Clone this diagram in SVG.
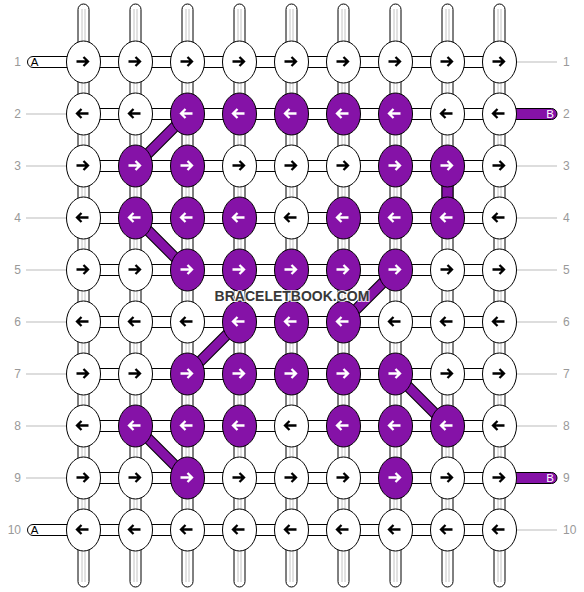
<svg xmlns="http://www.w3.org/2000/svg" xmlns:xlink="http://www.w3.org/1999/xlink" width="584" height="592" viewBox="0 0 584 592">
<style>
.str{fill:#fff;stroke:#000;stroke-width:1}
.gl{stroke:#c4c4c4;stroke-width:1;fill:none}
.pstr{fill:#8512a7;stroke:#000;stroke-width:1}
.dgo{stroke:#000;stroke-width:11;stroke-linecap:butt}
.dgi{stroke:#8512a7;stroke-width:9;stroke-linecap:butt}
.w{fill:#fff;stroke:#000;stroke-width:1}
.p{fill:#8512a7;stroke:#000;stroke-width:1}
.bk{stroke:#000;stroke-width:2.3;fill:none}
.wh{stroke:#fff;stroke-width:2.3;fill:none}
.lbl{font-family:"Liberation Sans",Arial,sans-serif;font-size:12px;fill:#999}
.tl{font-family:"Liberation Sans",Arial,sans-serif;font-size:11.5px;text-anchor:middle}
.rl{stroke:#bbb;stroke-width:1}
.wm{font-family:"Liberation Sans",Arial,sans-serif;font-size:14px;font-weight:bold;fill:#383838;stroke:#fff;stroke-width:2;stroke-opacity:0.8;paint-order:stroke;text-anchor:middle}
</style>
<defs>
<path id="ar" d="M-6 0H5M1-4.5L5.5 0 1 4.5"/>
<path id="al" d="M6 0H-5M-1-4.5L-5.5 0-1 4.5"/>
</defs>
<rect width="584" height="592" fill="#fff"/>
<g id="labels">
<line class="rl" x1="26" y1="114" x2="66" y2="114"/>
<line class="rl" x1="26" y1="166" x2="66" y2="166"/>
<line class="rl" x1="26" y1="218" x2="66" y2="218"/>
<line class="rl" x1="26" y1="270" x2="66" y2="270"/>
<line class="rl" x1="26" y1="322" x2="66" y2="322"/>
<line class="rl" x1="26" y1="374" x2="66" y2="374"/>
<line class="rl" x1="26" y1="426" x2="66" y2="426"/>
<line class="rl" x1="26" y1="478" x2="66" y2="478"/>
<line class="rl" x1="517" y1="62" x2="557" y2="62"/>
<line class="rl" x1="517" y1="166" x2="557" y2="166"/>
<line class="rl" x1="517" y1="218" x2="557" y2="218"/>
<line class="rl" x1="517" y1="270" x2="557" y2="270"/>
<line class="rl" x1="517" y1="322" x2="557" y2="322"/>
<line class="rl" x1="517" y1="374" x2="557" y2="374"/>
<line class="rl" x1="517" y1="426" x2="557" y2="426"/>
<line class="rl" x1="517" y1="530" x2="557" y2="530"/>
<text class="lbl" x="21" y="66" text-anchor="end">1</text>
<text class="lbl" x="21" y="118" text-anchor="end">2</text>
<text class="lbl" x="21" y="170" text-anchor="end">3</text>
<text class="lbl" x="21" y="222" text-anchor="end">4</text>
<text class="lbl" x="21" y="274" text-anchor="end">5</text>
<text class="lbl" x="21" y="326" text-anchor="end">6</text>
<text class="lbl" x="21" y="378" text-anchor="end">7</text>
<text class="lbl" x="21" y="430" text-anchor="end">8</text>
<text class="lbl" x="21" y="482" text-anchor="end">9</text>
<text class="lbl" x="21" y="534" text-anchor="end">10</text>
<text class="lbl" x="563" y="66">1</text>
<text class="lbl" x="563" y="118">2</text>
<text class="lbl" x="563" y="170">3</text>
<text class="lbl" x="563" y="222">4</text>
<text class="lbl" x="563" y="274">5</text>
<text class="lbl" x="563" y="326">6</text>
<text class="lbl" x="563" y="378">7</text>
<text class="lbl" x="563" y="430">8</text>
<text class="lbl" x="563" y="482">9</text>
<text class="lbl" x="563" y="534">10</text>
</g>
<g id="connectors">
<rect class="str" x="78" y="4" width="11" height="583" rx="5.5"/>
<rect class="str" x="130" y="4" width="11" height="583" rx="5.5"/>
<rect class="str" x="182" y="4" width="11" height="583" rx="5.5"/>
<rect class="str" x="234" y="4" width="11" height="583" rx="5.5"/>
<rect class="str" x="286" y="4" width="11" height="583" rx="5.5"/>
<rect class="str" x="338" y="4" width="11" height="583" rx="5.5"/>
<rect class="str" x="390" y="4" width="11" height="583" rx="5.5"/>
<rect class="str" x="442" y="4" width="11" height="583" rx="5.5"/>
<rect class="str" x="494" y="4" width="11" height="583" rx="5.5"/>
<path class="gl" d="M82 9V582M85 9V582M134 9V582M137 9V582M186 9V582M189 9V582M238 9V582M241 9V582M290 9V582M293 9V582M342 9V582M345 9V582M394 9V582M397 9V582M446 9V582M449 9V582M498 9V582M501 9V582"/>
<rect class="pstr" x="442" y="166" width="11" height="52"/>
<rect class="str" x="27.5" y="56.5" width="60" height="11" rx="5.5"/>
<rect class="str" x="27.5" y="524.5" width="60" height="11" rx="5.5"/>
<rect class="pstr" x="495" y="108.5" width="62" height="11" rx="5.5"/>
<rect class="pstr" x="495" y="472.5" width="62" height="11" rx="5.5"/>
<rect class="str" x="83.5" y="56.5" width="416" height="11"/>
<rect class="str" x="83.5" y="108.5" width="416" height="11"/>
<rect class="str" x="83.5" y="160.5" width="416" height="11"/>
<rect class="str" x="83.5" y="212.5" width="416" height="11"/>
<rect class="str" x="83.5" y="264.5" width="416" height="11"/>
<rect class="str" x="83.5" y="316.5" width="416" height="11"/>
<rect class="str" x="83.5" y="368.5" width="416" height="11"/>
<rect class="str" x="83.5" y="420.5" width="416" height="11"/>
<rect class="str" x="83.5" y="472.5" width="416" height="11"/>
<rect class="str" x="83.5" y="524.5" width="416" height="11"/>
<path class="dgo" d="M187.5 114L135.5 166M135.5 218L187.5 270M395.5 270L343.5 322M239.5 322L187.5 374M395.5 374L447.5 426M135.5 426L187.5 478"/>
<path class="dgi" d="M187.5 114L135.5 166M135.5 218L187.5 270M395.5 270L343.5 322M239.5 322L187.5 374M395.5 374L447.5 426M135.5 426L187.5 478"/>
<text class="tl" x="34.5" y="66" fill="#000">A</text>
<text class="tl" x="34.5" y="534" fill="#000">A</text>
<text class="tl" x="550" y="118" fill="#fff">B</text>
<text class="tl" x="550" y="482" fill="#fff">B</text>
</g>
<g id="n1-1"><ellipse class="w" cx="83.5" cy="62" rx="17" ry="21"/><use href="#ar" class="bk" x="82.5" y="61.5"/></g>
<g id="n1-2"><ellipse class="w" cx="135.5" cy="62" rx="17" ry="21"/><use href="#ar" class="bk" x="134.5" y="61.5"/></g>
<g id="n1-3"><ellipse class="w" cx="187.5" cy="62" rx="17" ry="21"/><use href="#ar" class="bk" x="186.5" y="61.5"/></g>
<g id="n1-4"><ellipse class="w" cx="239.5" cy="62" rx="17" ry="21"/><use href="#ar" class="bk" x="238.5" y="61.5"/></g>
<g id="n1-5"><ellipse class="w" cx="291.5" cy="62" rx="17" ry="21"/><use href="#ar" class="bk" x="290.5" y="61.5"/></g>
<g id="n1-6"><ellipse class="w" cx="343.5" cy="62" rx="17" ry="21"/><use href="#ar" class="bk" x="342.5" y="61.5"/></g>
<g id="n1-7"><ellipse class="w" cx="395.5" cy="62" rx="17" ry="21"/><use href="#ar" class="bk" x="394.5" y="61.5"/></g>
<g id="n1-8"><ellipse class="w" cx="447.5" cy="62" rx="17" ry="21"/><use href="#ar" class="bk" x="446.5" y="61.5"/></g>
<g id="n1-9"><ellipse class="w" cx="499.5" cy="62" rx="17" ry="21"/><use href="#ar" class="bk" x="498.5" y="61.5"/></g>
<g id="n2-1"><ellipse class="w" cx="83.5" cy="114" rx="17" ry="21"/><use href="#al" class="bk" x="82.5" y="113.5"/></g>
<g id="n2-2"><ellipse class="w" cx="135.5" cy="114" rx="17" ry="21"/><use href="#al" class="bk" x="134.5" y="113.5"/></g>
<g id="n2-3"><ellipse class="p" cx="187.5" cy="114" rx="17" ry="21"/><use href="#al" class="wh" x="186.5" y="113.5"/></g>
<g id="n2-4"><ellipse class="p" cx="239.5" cy="114" rx="17" ry="21"/><use href="#al" class="wh" x="238.5" y="113.5"/></g>
<g id="n2-5"><ellipse class="p" cx="291.5" cy="114" rx="17" ry="21"/><use href="#al" class="wh" x="290.5" y="113.5"/></g>
<g id="n2-6"><ellipse class="p" cx="343.5" cy="114" rx="17" ry="21"/><use href="#al" class="wh" x="342.5" y="113.5"/></g>
<g id="n2-7"><ellipse class="p" cx="395.5" cy="114" rx="17" ry="21"/><use href="#al" class="wh" x="394.5" y="113.5"/></g>
<g id="n2-8"><ellipse class="w" cx="447.5" cy="114" rx="17" ry="21"/><use href="#al" class="bk" x="446.5" y="113.5"/></g>
<g id="n2-9"><ellipse class="w" cx="499.5" cy="114" rx="17" ry="21"/><use href="#al" class="bk" x="498.5" y="113.5"/></g>
<g id="n3-1"><ellipse class="w" cx="83.5" cy="166" rx="17" ry="21"/><use href="#ar" class="bk" x="82.5" y="165.5"/></g>
<g id="n3-2"><ellipse class="p" cx="135.5" cy="166" rx="17" ry="21"/><use href="#ar" class="wh" x="134.5" y="165.5"/></g>
<g id="n3-3"><ellipse class="p" cx="187.5" cy="166" rx="17" ry="21"/><use href="#ar" class="wh" x="186.5" y="165.5"/></g>
<g id="n3-4"><ellipse class="w" cx="239.5" cy="166" rx="17" ry="21"/><use href="#ar" class="bk" x="238.5" y="165.5"/></g>
<g id="n3-5"><ellipse class="w" cx="291.5" cy="166" rx="17" ry="21"/><use href="#ar" class="bk" x="290.5" y="165.5"/></g>
<g id="n3-6"><ellipse class="w" cx="343.5" cy="166" rx="17" ry="21"/><use href="#ar" class="bk" x="342.5" y="165.5"/></g>
<g id="n3-7"><ellipse class="p" cx="395.5" cy="166" rx="17" ry="21"/><use href="#ar" class="wh" x="394.5" y="165.5"/></g>
<g id="n3-8"><ellipse class="p" cx="447.5" cy="166" rx="17" ry="21"/><use href="#ar" class="wh" x="446.5" y="165.5"/></g>
<g id="n3-9"><ellipse class="w" cx="499.5" cy="166" rx="17" ry="21"/><use href="#ar" class="bk" x="498.5" y="165.5"/></g>
<g id="n4-1"><ellipse class="w" cx="83.5" cy="218" rx="17" ry="21"/><use href="#al" class="bk" x="82.5" y="217.5"/></g>
<g id="n4-2"><ellipse class="p" cx="135.5" cy="218" rx="17" ry="21"/><use href="#al" class="wh" x="134.5" y="217.5"/></g>
<g id="n4-3"><ellipse class="p" cx="187.5" cy="218" rx="17" ry="21"/><use href="#al" class="wh" x="186.5" y="217.5"/></g>
<g id="n4-4"><ellipse class="p" cx="239.5" cy="218" rx="17" ry="21"/><use href="#al" class="wh" x="238.5" y="217.5"/></g>
<g id="n4-5"><ellipse class="w" cx="291.5" cy="218" rx="17" ry="21"/><use href="#al" class="bk" x="290.5" y="217.5"/></g>
<g id="n4-6"><ellipse class="p" cx="343.5" cy="218" rx="17" ry="21"/><use href="#al" class="wh" x="342.5" y="217.5"/></g>
<g id="n4-7"><ellipse class="p" cx="395.5" cy="218" rx="17" ry="21"/><use href="#al" class="wh" x="394.5" y="217.5"/></g>
<g id="n4-8"><ellipse class="p" cx="447.5" cy="218" rx="17" ry="21"/><use href="#al" class="wh" x="446.5" y="217.5"/></g>
<g id="n4-9"><ellipse class="w" cx="499.5" cy="218" rx="17" ry="21"/><use href="#al" class="bk" x="498.5" y="217.5"/></g>
<g id="n5-1"><ellipse class="w" cx="83.5" cy="270" rx="17" ry="21"/><use href="#ar" class="bk" x="82.5" y="269.5"/></g>
<g id="n5-2"><ellipse class="w" cx="135.5" cy="270" rx="17" ry="21"/><use href="#ar" class="bk" x="134.5" y="269.5"/></g>
<g id="n5-3"><ellipse class="p" cx="187.5" cy="270" rx="17" ry="21"/><use href="#ar" class="wh" x="186.5" y="269.5"/></g>
<g id="n5-4"><ellipse class="p" cx="239.5" cy="270" rx="17" ry="21"/><use href="#ar" class="wh" x="238.5" y="269.5"/></g>
<g id="n5-5"><ellipse class="p" cx="291.5" cy="270" rx="17" ry="21"/><use href="#ar" class="wh" x="290.5" y="269.5"/></g>
<g id="n5-6"><ellipse class="p" cx="343.5" cy="270" rx="17" ry="21"/><use href="#ar" class="wh" x="342.5" y="269.5"/></g>
<g id="n5-7"><ellipse class="p" cx="395.5" cy="270" rx="17" ry="21"/><use href="#ar" class="wh" x="394.5" y="269.5"/></g>
<g id="n5-8"><ellipse class="w" cx="447.5" cy="270" rx="17" ry="21"/><use href="#ar" class="bk" x="446.5" y="269.5"/></g>
<g id="n5-9"><ellipse class="w" cx="499.5" cy="270" rx="17" ry="21"/><use href="#ar" class="bk" x="498.5" y="269.5"/></g>
<g id="n6-1"><ellipse class="w" cx="83.5" cy="322" rx="17" ry="21"/><use href="#al" class="bk" x="82.5" y="321.5"/></g>
<g id="n6-2"><ellipse class="w" cx="135.5" cy="322" rx="17" ry="21"/><use href="#al" class="bk" x="134.5" y="321.5"/></g>
<g id="n6-3"><ellipse class="w" cx="187.5" cy="322" rx="17" ry="21"/><use href="#al" class="bk" x="186.5" y="321.5"/></g>
<g id="n6-4"><ellipse class="p" cx="239.5" cy="322" rx="17" ry="21"/><use href="#al" class="wh" x="238.5" y="321.5"/></g>
<g id="n6-5"><ellipse class="p" cx="291.5" cy="322" rx="17" ry="21"/><use href="#al" class="wh" x="290.5" y="321.5"/></g>
<g id="n6-6"><ellipse class="p" cx="343.5" cy="322" rx="17" ry="21"/><use href="#al" class="wh" x="342.5" y="321.5"/></g>
<g id="n6-7"><ellipse class="w" cx="395.5" cy="322" rx="17" ry="21"/><use href="#al" class="bk" x="394.5" y="321.5"/></g>
<g id="n6-8"><ellipse class="w" cx="447.5" cy="322" rx="17" ry="21"/><use href="#al" class="bk" x="446.5" y="321.5"/></g>
<g id="n6-9"><ellipse class="w" cx="499.5" cy="322" rx="17" ry="21"/><use href="#al" class="bk" x="498.5" y="321.5"/></g>
<g id="n7-1"><ellipse class="w" cx="83.5" cy="374" rx="17" ry="21"/><use href="#ar" class="bk" x="82.5" y="373.5"/></g>
<g id="n7-2"><ellipse class="w" cx="135.5" cy="374" rx="17" ry="21"/><use href="#ar" class="bk" x="134.5" y="373.5"/></g>
<g id="n7-3"><ellipse class="p" cx="187.5" cy="374" rx="17" ry="21"/><use href="#ar" class="wh" x="186.5" y="373.5"/></g>
<g id="n7-4"><ellipse class="p" cx="239.5" cy="374" rx="17" ry="21"/><use href="#ar" class="wh" x="238.5" y="373.5"/></g>
<g id="n7-5"><ellipse class="p" cx="291.5" cy="374" rx="17" ry="21"/><use href="#ar" class="wh" x="290.5" y="373.5"/></g>
<g id="n7-6"><ellipse class="p" cx="343.5" cy="374" rx="17" ry="21"/><use href="#ar" class="wh" x="342.5" y="373.5"/></g>
<g id="n7-7"><ellipse class="p" cx="395.5" cy="374" rx="17" ry="21"/><use href="#ar" class="wh" x="394.5" y="373.5"/></g>
<g id="n7-8"><ellipse class="w" cx="447.5" cy="374" rx="17" ry="21"/><use href="#ar" class="bk" x="446.5" y="373.5"/></g>
<g id="n7-9"><ellipse class="w" cx="499.5" cy="374" rx="17" ry="21"/><use href="#ar" class="bk" x="498.5" y="373.5"/></g>
<g id="n8-1"><ellipse class="w" cx="83.5" cy="426" rx="17" ry="21"/><use href="#al" class="bk" x="82.5" y="425.5"/></g>
<g id="n8-2"><ellipse class="p" cx="135.5" cy="426" rx="17" ry="21"/><use href="#al" class="wh" x="134.5" y="425.5"/></g>
<g id="n8-3"><ellipse class="p" cx="187.5" cy="426" rx="17" ry="21"/><use href="#al" class="wh" x="186.5" y="425.5"/></g>
<g id="n8-4"><ellipse class="p" cx="239.5" cy="426" rx="17" ry="21"/><use href="#al" class="wh" x="238.5" y="425.5"/></g>
<g id="n8-5"><ellipse class="w" cx="291.5" cy="426" rx="17" ry="21"/><use href="#al" class="bk" x="290.5" y="425.5"/></g>
<g id="n8-6"><ellipse class="p" cx="343.5" cy="426" rx="17" ry="21"/><use href="#al" class="wh" x="342.5" y="425.5"/></g>
<g id="n8-7"><ellipse class="p" cx="395.5" cy="426" rx="17" ry="21"/><use href="#al" class="wh" x="394.5" y="425.5"/></g>
<g id="n8-8"><ellipse class="p" cx="447.5" cy="426" rx="17" ry="21"/><use href="#al" class="wh" x="446.5" y="425.5"/></g>
<g id="n8-9"><ellipse class="w" cx="499.5" cy="426" rx="17" ry="21"/><use href="#al" class="bk" x="498.5" y="425.5"/></g>
<g id="n9-1"><ellipse class="w" cx="83.5" cy="478" rx="17" ry="21"/><use href="#ar" class="bk" x="82.5" y="477.5"/></g>
<g id="n9-2"><ellipse class="w" cx="135.5" cy="478" rx="17" ry="21"/><use href="#ar" class="bk" x="134.5" y="477.5"/></g>
<g id="n9-3"><ellipse class="p" cx="187.5" cy="478" rx="17" ry="21"/><use href="#ar" class="wh" x="186.5" y="477.5"/></g>
<g id="n9-4"><ellipse class="w" cx="239.5" cy="478" rx="17" ry="21"/><use href="#ar" class="bk" x="238.5" y="477.5"/></g>
<g id="n9-5"><ellipse class="w" cx="291.5" cy="478" rx="17" ry="21"/><use href="#ar" class="bk" x="290.5" y="477.5"/></g>
<g id="n9-6"><ellipse class="w" cx="343.5" cy="478" rx="17" ry="21"/><use href="#ar" class="bk" x="342.5" y="477.5"/></g>
<g id="n9-7"><ellipse class="p" cx="395.5" cy="478" rx="17" ry="21"/><use href="#ar" class="wh" x="394.5" y="477.5"/></g>
<g id="n9-8"><ellipse class="w" cx="447.5" cy="478" rx="17" ry="21"/><use href="#ar" class="bk" x="446.5" y="477.5"/></g>
<g id="n9-9"><ellipse class="w" cx="499.5" cy="478" rx="17" ry="21"/><use href="#ar" class="bk" x="498.5" y="477.5"/></g>
<g id="n10-1"><ellipse class="w" cx="83.5" cy="530" rx="17" ry="21"/><use href="#al" class="bk" x="82.5" y="529.5"/></g>
<g id="n10-2"><ellipse class="w" cx="135.5" cy="530" rx="17" ry="21"/><use href="#al" class="bk" x="134.5" y="529.5"/></g>
<g id="n10-3"><ellipse class="w" cx="187.5" cy="530" rx="17" ry="21"/><use href="#al" class="bk" x="186.5" y="529.5"/></g>
<g id="n10-4"><ellipse class="w" cx="239.5" cy="530" rx="17" ry="21"/><use href="#al" class="bk" x="238.5" y="529.5"/></g>
<g id="n10-5"><ellipse class="w" cx="291.5" cy="530" rx="17" ry="21"/><use href="#al" class="bk" x="290.5" y="529.5"/></g>
<g id="n10-6"><ellipse class="w" cx="343.5" cy="530" rx="17" ry="21"/><use href="#al" class="bk" x="342.5" y="529.5"/></g>
<g id="n10-7"><ellipse class="w" cx="395.5" cy="530" rx="17" ry="21"/><use href="#al" class="bk" x="394.5" y="529.5"/></g>
<g id="n10-8"><ellipse class="w" cx="447.5" cy="530" rx="17" ry="21"/><use href="#al" class="bk" x="446.5" y="529.5"/></g>
<g id="n10-9"><ellipse class="w" cx="499.5" cy="530" rx="17" ry="21"/><use href="#al" class="bk" x="498.5" y="529.5"/></g>
<text class="wm" x="292" y="301">BRACELETBOOK.COM</text>
</svg>
